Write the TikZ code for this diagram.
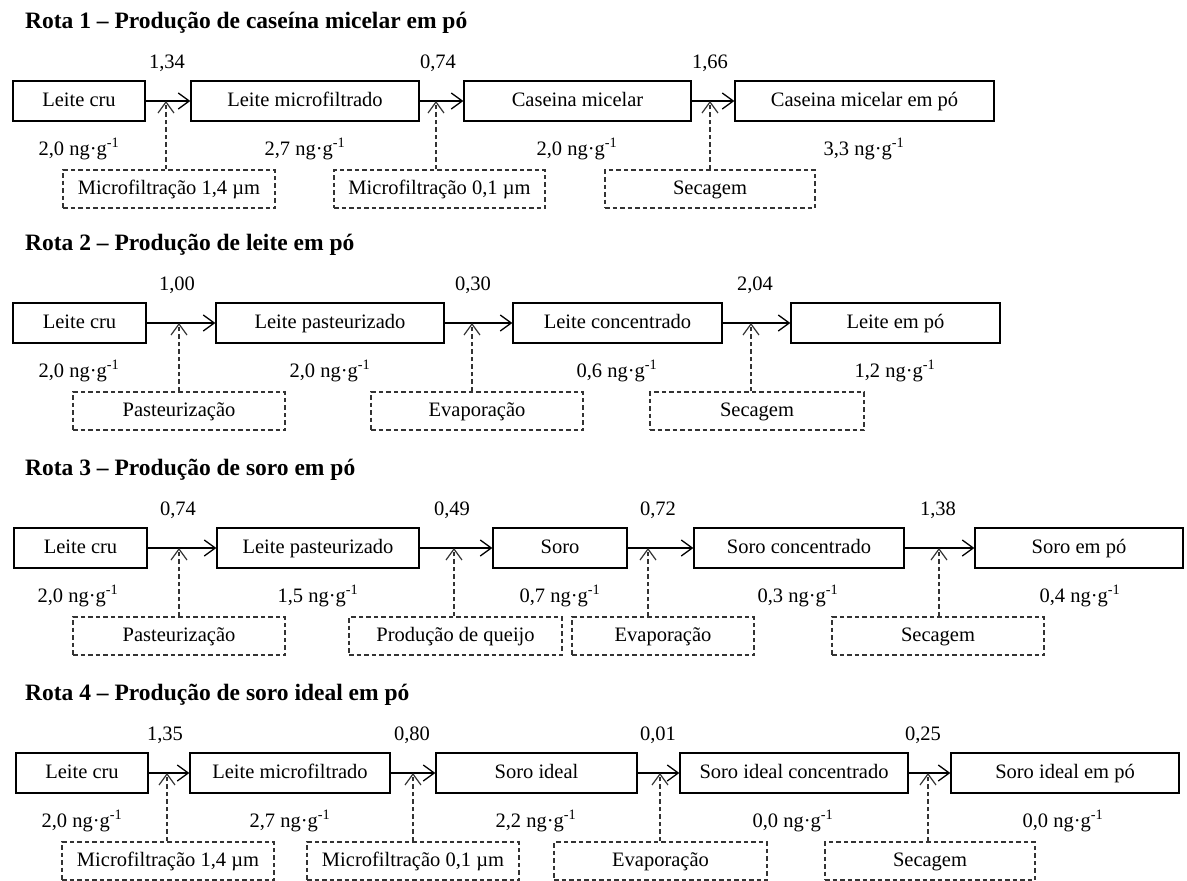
\documentclass[tikz,border=0pt]{standalone}
\usepackage{fontspec}
\setmainfont{Liberation Serif}
\usetikzlibrary{arrows.meta}

\begin{document}
\begin{tikzpicture}[x=1pt, y=-1pt,
				   proc/.style={draw, line width=1.3pt, minimum height=40pt, inner sep=0pt, font=\fontsize{20.5}{24}\selectfont, text height=15pt, text depth=3.5pt},
				   oper/.style={draw=black!80, line width=1.2pt, dash pattern=on 4.5pt off 3pt, minimum height=38pt, inner sep=0pt, font=\fontsize{20.5}{24}\selectfont, text height=15pt, text depth=3.5pt},
				   rate/.style={anchor=base, inner sep=0pt, font=\fontsize{20.5}{24}\selectfont},
				   conc/.style={anchor=base, inner sep=0pt, font=\fontsize{20.5}{24}\selectfont},
				   title/.style={anchor=base west, inner sep=0pt, font=\fontsize{23.5}{28}\selectfont\bfseries},
				   flow/.style={line width=1.3pt, -{Straight Barb[length=11pt, width=16pt]}},
				   feed/.style={draw=black!80, line width=1.2pt, dash pattern=on 4.5pt off 3pt, -{Straight Barb[length=11pt, width=16pt]}}]
\useasboundingbox (0,0) rectangle (1187,881);

% Rota 1
\node[title] (t1) at (25,28) {Rota 1 – Produção de caseína micelar em pó};
\node[proc, minimum width=132pt] (b11) at (79,101) {Leite cru};
\node[proc, minimum width=228pt] (b12) at (305,101) {Leite microfiltrado};
\node[proc, minimum width=227pt] (b13) at (577.5,101) {Caseina micelar};
\node[proc, minimum width=259pt] (b14) at (864.5,101) {Caseina micelar em pó};
\coordinate (j11) at (166,101);
\coordinate (j12) at (436,101);
\coordinate (j13) at (710,101);
\draw[flow] (b11) -- (b12);
\draw[flow] (b12) -- (b13);
\draw[flow] (b13) -- (b14);
\node[rate] (r11) at (167,68) {1,34};
\node[rate] (r12) at (438,68) {0,74};
\node[rate] (r13) at (710,68) {1,66};
\node[conc] (c11) at (79,155) {2,0 ng·g\textsuperscript{-1}};
\node[conc] (c12) at (305,155) {2,7 ng·g\textsuperscript{-1}};
\node[conc] (c13) at (577,155) {2,0 ng·g\textsuperscript{-1}};
\node[conc] (c14) at (864,155) {3,3 ng·g\textsuperscript{-1}};
\node[oper, minimum width=212pt] (o11) at (169,189) {Microfiltração 1,4 µm};
\node[oper, minimum width=211pt] (o12) at (439.5,189) {Microfiltração 0,1 µm};
\node[oper, minimum width=210pt] (o13) at (710,189) {Secagem};
\draw[feed] (o11.north -| j11) -- (j11);
\draw[feed] (o12.north -| j12) -- (j12);
\draw[feed] (o13.north -| j13) -- (j13);

% Rota 2
\node[title] (t2) at (25,250) {Rota 2 – Produção de leite em pó};
\node[proc, minimum width=133pt] (b21) at (79.5,323) {Leite cru};
\node[proc, minimum width=228pt] (b22) at (330,323) {Leite pasteurizado};
\node[proc, minimum width=209pt] (b23) at (617.5,323) {Leite concentrado};
\node[proc, minimum width=209pt] (b24) at (895.5,323) {Leite em pó};
\coordinate (j21) at (179,323);
\coordinate (j22) at (472,323);
\coordinate (j23) at (751,323);
\draw[flow] (b21) -- (b22);
\draw[flow] (b22) -- (b23);
\draw[flow] (b23) -- (b24);
\node[rate] (r21) at (177,290) {1,00};
\node[rate] (r22) at (473,290) {0,30};
\node[rate] (r23) at (755,290) {2,04};
\node[conc] (c21) at (79,377) {2,0 ng·g\textsuperscript{-1}};
\node[conc] (c22) at (330,377) {2,0 ng·g\textsuperscript{-1}};
\node[conc] (c23) at (617,377) {0,6 ng·g\textsuperscript{-1}};
\node[conc] (c24) at (895,377) {1,2 ng·g\textsuperscript{-1}};
\node[oper, minimum width=212pt] (o21) at (179,411) {Pasteurização};
\node[oper, minimum width=212pt] (o22) at (477,411) {Evaporação};
\node[oper, minimum width=214pt] (o23) at (757,411) {Secagem};
\draw[feed] (o21.north -| j21) -- (j21);
\draw[feed] (o22.north -| j22) -- (j22);
\draw[feed] (o23.north -| j23) -- (j23);

% Rota 3
\node[title] (t3) at (25,475) {Rota 3 – Produção de soro em pó};
\node[proc, minimum width=133pt] (b31) at (80.5,548) {Leite cru};
\node[proc, minimum width=202pt] (b32) at (318,548) {Leite pasteurizado};
\node[proc, minimum width=134pt] (b33) at (560,548) {Soro};
\node[proc, minimum width=210pt] (b34) at (799,548) {Soro concentrado};
\node[proc, minimum width=208pt] (b35) at (1079,548) {Soro em pó};
\coordinate (j31) at (179,548);
\coordinate (j32) at (454,548);
\coordinate (j33) at (648,548);
\coordinate (j34) at (939,548);
\draw[flow] (b31) -- (b32);
\draw[flow] (b32) -- (b33);
\draw[flow] (b33) -- (b34);
\draw[flow] (b34) -- (b35);
\node[rate] (r31) at (178,515) {0,74};
\node[rate] (r32) at (452,515) {0,49};
\node[rate] (r33) at (658,515) {0,72};
\node[rate] (r34) at (938,515) {1,38};
\node[conc] (c31) at (78,602) {2,0 ng·g\textsuperscript{-1}};
\node[conc] (c32) at (318,602) {1,5 ng·g\textsuperscript{-1}};
\node[conc] (c33) at (560,602) {0,7 ng·g\textsuperscript{-1}};
\node[conc] (c34) at (798,602) {0,3 ng·g\textsuperscript{-1}};
\node[conc] (c35) at (1080,602) {0,4 ng·g\textsuperscript{-1}};
\node[oper, minimum width=212pt] (o31) at (179,636) {Pasteurização};
\node[oper, minimum width=213pt] (o32) at (455.5,636) {Produção de queijo};
\node[oper, minimum width=182pt] (o33) at (663,636) {Evaporação};
\node[oper, minimum width=212pt] (o34) at (938,636) {Secagem};
\draw[feed] (o31.north -| j31) -- (j31);
\draw[feed] (o32.north -| j32) -- (j32);
\draw[feed] (o33.north -| j33) -- (j33);
\draw[feed] (o34.north -| j34) -- (j34);

% Rota 4
\node[title] (t4) at (25,700) {Rota 4 – Produção de soro ideal em pó};
\node[proc, minimum width=132pt] (b41) at (82,773) {Leite cru};
\node[proc, minimum width=200pt] (b42) at (290,773) {Leite microfiltrado};
\node[proc, minimum width=201pt] (b43) at (536.5,773) {Soro ideal};
\node[proc, minimum width=228pt] (b44) at (794,773) {Soro ideal concentrado};
\node[proc, minimum width=228pt] (b45) at (1065,773) {Soro ideal em pó};
\coordinate (j41) at (167,773);
\coordinate (j42) at (413,773);
\coordinate (j43) at (660,773);
\coordinate (j44) at (928,773);
\draw[flow] (b41) -- (b42);
\draw[flow] (b42) -- (b43);
\draw[flow] (b43) -- (b44);
\draw[flow] (b44) -- (b45);
\node[rate] (r41) at (165,740) {1,35};
\node[rate] (r42) at (412,740) {0,80};
\node[rate] (r43) at (658,740) {0,01};
\node[rate] (r44) at (923,740) {0,25};
\node[conc] (c41) at (82,827) {2,0 ng·g\textsuperscript{-1}};
\node[conc] (c42) at (290,827) {2,7 ng·g\textsuperscript{-1}};
\node[conc] (c43) at (536,827) {2,2 ng·g\textsuperscript{-1}};
\node[conc] (c44) at (793,827) {0,0 ng·g\textsuperscript{-1}};
\node[conc] (c45) at (1063,827) {0,0 ng·g\textsuperscript{-1}};
\node[oper, minimum width=212pt] (o41) at (168,861) {Microfiltração 1,4 µm};
\node[oper, minimum width=212pt] (o42) at (413,861) {Microfiltração 0,1 µm};
\node[oper, minimum width=213pt] (o43) at (660.5,861) {Evaporação};
\node[oper, minimum width=210pt] (o44) at (930,861) {Secagem};
\draw[feed] (o41.north -| j41) -- (j41);
\draw[feed] (o42.north -| j42) -- (j42);
\draw[feed] (o43.north -| j43) -- (j43);
\draw[feed] (o44.north -| j44) -- (j44);
\end{tikzpicture}
\end{document}
